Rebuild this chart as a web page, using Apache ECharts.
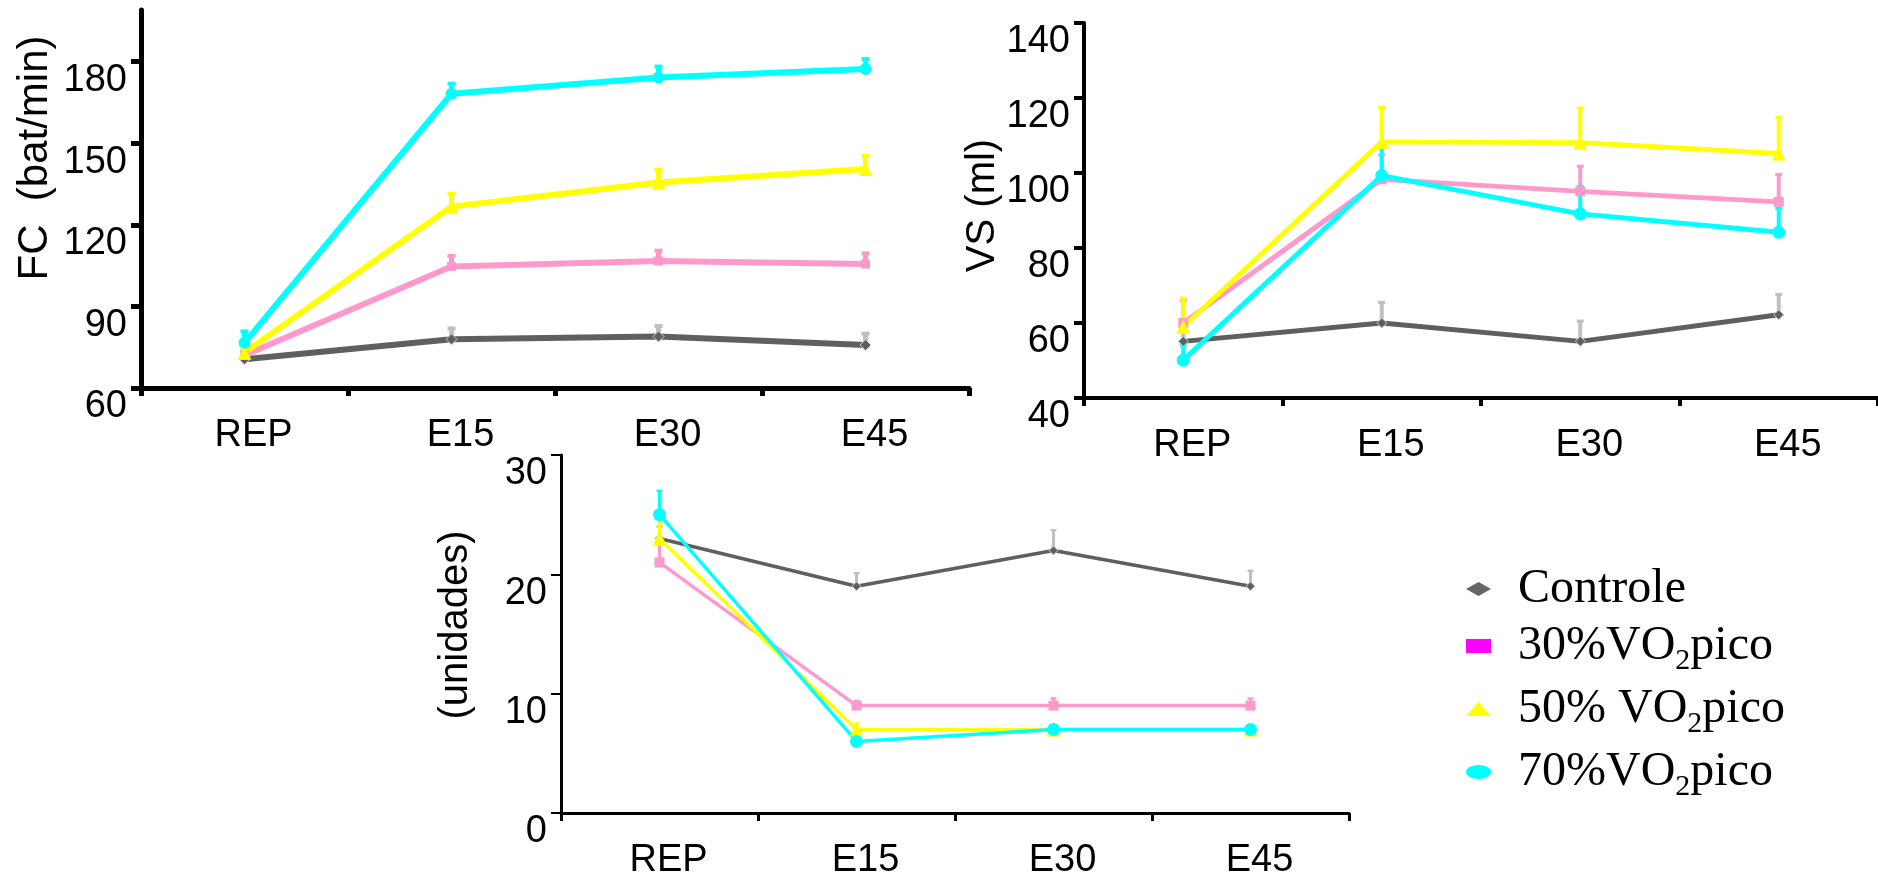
<!DOCTYPE html>
<html><head><meta charset="utf-8">
<script src="https://cdn.jsdelivr.net/npm/echarts@6/dist/echarts.min.js"></script>
<style>html,body{margin:0;padding:0;background:#fff}#c{width:1878px;height:884px}</style>
</head><body><div id="c"></div>
<script>
const categories = ['REP', 'E15', 'E30', 'E45'];
const seriesNames = ['Controle', '30%VO2pico', '50% VO2pico', '70%VO2pico'];

// FC (bat/min)
const fcControle = [70.6, 77.9, 78.9, 75.8];
const fc30 = [72, 104.7, 106.7, 105.6];
const fc50 = [73, 126.7, 135.6, 140.5];
const fc70 = [76.6, 168.2, 174.2, 177.3];
const fcErrControle = [1.5, 4, 3.9, 4.2];
const fcErr30 = [1.5, 3.9, 3.8, 3.9];
const fcErr50 = [2, 4.7, 4.7, 4.9];
const fcErr70 = [4.2, 3.7, 4, 3.7];
const fcTicks = [60, 90, 120, 150, 180];

// VS (ml)
const vsControle = [55.1, 60, 55.1, 62.2];
const vs30 = [60, 98.3, 95.1, 92.3];
const vs50 = [59, 108.3, 108.1, 105.2];
const vs70 = [50.1, 99.3, 89.1, 84.2];
const vsErrControle = [5, 5.5, 5.4, 5.4];
const vsErr30 = [6, 6.5, 6.7, 7.3];
const vsErr50 = [7.6, 9.2, 9.2, 9.6];
const vsErr70 = [4, 7.4, 7.3, 6.4];
const vsTicks = [40, 60, 80, 100, 120, 140];

// (unidades)
const unControle = [23, 19, 22, 19];
const un30 = [21, 9, 9, 9];
const un50 = [23, 7, 7, 7];
const un70 = [25, 6, 7, 7];
const unErrControle = [1, 1.1, 1.7, 1.3];
const unErr30 = [2, 0.4, 0.6, 0.6];
const unErr50 = [1.8, 0.5, 0.3, 0.4];
const unErr70 = [2, 0.3, 0.3, 0.3];
const unTicks = [0, 10, 20, 30];

const lineColors = ['#5f5f5f', '#ff99cc', '#ffff00', '#00ffff'];
const errColors = ['#c0c0c0', '#ff99cc', '#ffff00', '#00ffff'];
const legendColors = ['#666666', '#ff00ff', '#ffff00', '#00ffff'];
const symbols = ['diamond', 'rect', 'triangle', 'circle'];
const legendIcons = ['diamond', 'rect', 'triangle', 'path://M0 50 A50 50 0 1 1 100 50 A50 50 0 1 1 0 50 Z'];

const panels = [
  { vals: [fcControle, fc30, fc50, fc70], errs: [fcErrControle, fcErr30, fcErr50, fcErr70],
    lw: 6, sym: [11, 9, 14, 12], ew: 5, cap: 8 },
  { vals: [vsControle, vs30, vs50, vs70], errs: [vsErrControle, vsErr30, vsErr50, vsErr70],
    lw: 5, sym: [10, 10, 14, 13], ew: 4, cap: 7 },
  { vals: [unControle, un30, un50, un70], errs: [unErrControle, unErr30, unErr50, unErr70],
    lw: 3.5, sym: [9, 10, 14, 13], ew: 3, cap: 6 }
];

function errRender(color, w, cap) {
  return function (params, api) {
    const i = api.value(0), v = api.value(1), e = api.value(2);
    const p0 = api.coord([i, v]);
    const p1 = api.coord([i, v + e]);
    return { type: 'group', children: [
      { type: 'line', shape: { x1: p0[0], y1: p0[1], x2: p1[0], y2: p1[1] }, style: { stroke: color, lineWidth: w } },
      { type: 'line', shape: { x1: p1[0] - cap / 2, y1: p1[1], x2: p1[0] + cap / 2, y2: p1[1] }, style: { stroke: color, lineWidth: w * 0.8 } }
    ] };
  };
}

const series = [];
panels.forEach((p, g) => {
  for (let k = 0; k < 4; k++) {
    series.push({
      type: 'custom', name: seriesNames[k], xAxisIndex: g, yAxisIndex: g,
      renderItem: errRender(errColors[k], p.ew, p.cap),
      data: p.vals[k].map((v, i) => [i, v, p.errs[k][i]]),
      encode: { x: 0, y: 1 }, z: 2, silent: true
    });
    series.push({
      type: 'line', name: seriesNames[k], xAxisIndex: g, yAxisIndex: g,
      data: p.vals[k], symbol: symbols[k], symbolSize: p.sym[k], showSymbol: true,
      lineStyle: { color: lineColors[k], width: p.lw },
      itemStyle: k === 0 ? { color: lineColors[k], borderColor: '#cfcfcf', borderWidth: 1 } : { color: lineColors[k] },
      z: 2
    });
  }
});

const labelFont = { fontFamily: 'Liberation Sans', fontSize: 38, color: '#000' };
function xAxis(g, w) {
  return {
    type: 'category', gridIndex: g, data: categories, boundaryGap: true,
    axisLine: { lineStyle: { color: '#000', width: w } },
    axisTick: { show: true, length: 8, lineStyle: { color: '#000', width: w } },
    axisLabel: Object.assign({ margin: 29, padding: [0, 0, 0, 18] }, labelFont),
    splitLine: { show: false }
  };
}
function yAxis(g, min, max, ticks, w, tw, name, gap, shift, fs) {
  return {
    type: 'value', gridIndex: g, min: min, max: max,
    axisLine: { show: true, lineStyle: { color: '#000', width: w } },
    axisTick: { show: true, length: 10, customValues: ticks, lineStyle: { color: '#000', width: tw } },
    axisLabel: Object.assign({ margin: 14, customValues: ticks, verticalAlign: 'top' }, labelFont),
    splitLine: { show: false },
    name: name, nameLocation: 'middle', nameRotate: 90, nameGap: gap,
    nameTextStyle: { fontFamily: 'Liberation Sans', fontSize: fs, color: '#000', padding: [0, 0, 0, shift] }
  };
}

const legendLabels = {
  'Controle': '{p| }{a|Controle}',
  '30%VO2pico': '{p| }{a|30%VO}{s|2}{a|pico}',
  '50% VO2pico': '{p| }{a|50% VO}{s|2}{a|pico}',
  '70%VO2pico': '{p| }{a|70%VO}{s|2}{a|pico}'
};

const option = {
  animation: false,
  backgroundColor: '#fff',
  grid: [
    { left: 141, top: 10, width: 828, height: 378 },
    { left: 1084, top: 23, width: 794, height: 375 },
    { left: 561, top: 455, width: 788, height: 358 }
  ],
  xAxis: [xAxis(0, 5), xAxis(1, 4), xAxis(2, 3)],
  yAxis: [
    yAxis(0, 60, 199, fcTicks, 5, 5, 'FC  (bat/min)', 85, 82, 42),
    yAxis(1, 40, 140, vsTicks, 4, 4, 'VS (ml)', 78, 10, 40),
    yAxis(2, 0, 30, unTicks, 3, 2, '(unidades)', 85, 18, 40)
  ],
  legend: {
    orient: 'vertical', left: 1461, top: 560, itemWidth: 25, itemHeight: 14, itemGap: 9,
    symbolKeepAspect: false, selectedMode: false,
    data: seriesNames.map((n, i) => ({ name: n, icon: legendIcons[i], itemStyle: { color: legendColors[i], borderWidth: 0 } })),
    formatter: name => legendLabels[name],
    textStyle: {
      color: '#000',
      rich: {
        p: { width: 22, fontSize: 20, lineHeight: 60 },
        a: { fontFamily: 'Liberation Serif', fontSize: 48, lineHeight: 60, color: '#000' },
        s: { fontFamily: 'Liberation Serif', fontSize: 30, lineHeight: 30, verticalAlign: 'bottom', color: '#000' }
      }
    }
  },
  series: series
};

const chart = echarts.init(document.getElementById('c'), null, { renderer: 'canvas' });
chart.setOption(option);
</script>
</body></html>
